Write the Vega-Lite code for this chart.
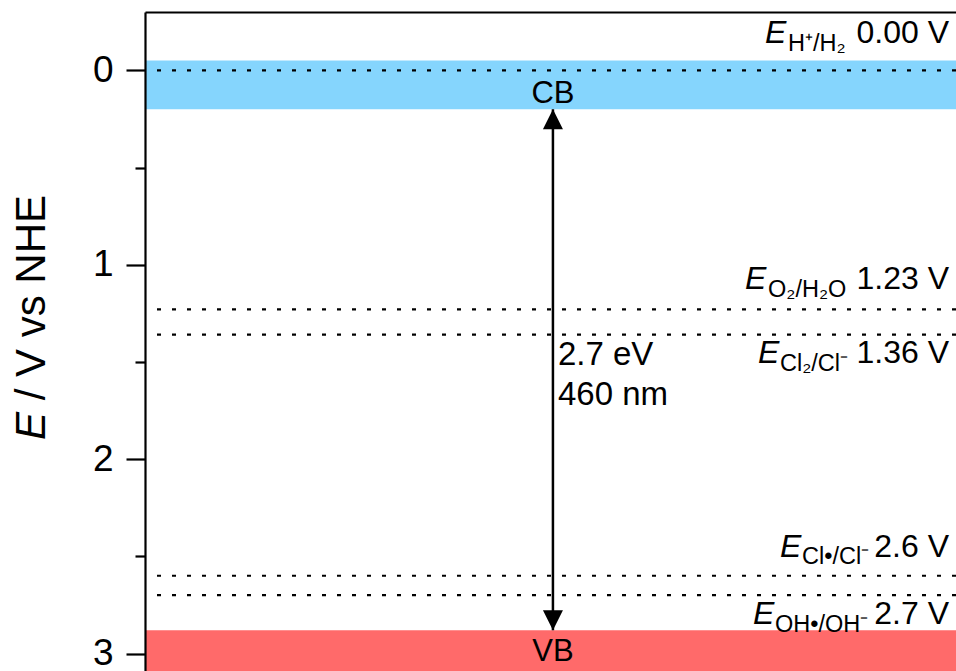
{
  "$schema": "https://vega.github.io/schema/vega-lite/v6.json",
  "width": 811,
  "height": 659,
  "autosize": "none",
  "padding": {"left": 145, "top": 12, "right": 0, "bottom": 0},
  "background": "white",
  "config": {"view": {"stroke": null}, "font": "Liberation Sans", "text": {"font": "Liberation Sans", "color": "black", "baseline": "alphabetic"}},
  "datasets": {
    "bands": [
      {"band": "CB", "top": -0.05, "bottom": 0.2},
      {"band": "VB", "top": 2.88, "bottom": 3.09}
    ],
    "levels": [
      {"id": "H", "pot": 0.0, "sub": "H⁺/H₂", "val": "0.00 V"},
      {"id": "O2", "pot": 1.23, "sub": "O₂/H₂O", "val": "1.23 V"},
      {"id": "Cl2", "pot": 1.36, "sub": "Cl₂/Cl⁻", "val": "1.36 V"},
      {"id": "Cl", "pot": 2.6, "sub": "Cl•/Cl⁻", "val": "2.6 V"},
      {"id": "OH", "pot": 2.7, "sub": "OH•/OH⁻", "val": "2.7 V"}
    ],
    "gap": [{"energy": "2.7 eV", "wavelength": "460 nm", "cb": 0.2, "vb": 2.88}],
    "title": [{"sym": "E", "rest": "/ V vs NHE"}]
  },
  "layer": [
    {
      "data": {"name": "bands"},
      "mark": {"type": "rect", "clip": true},
      "encoding": {
        "y": {
          "field": "top", "type": "quantitative",
          "scale": {"domain": [-0.3, 3.09], "reverse": true, "nice": false, "zero": false},
          "axis": {
            "title": null, "values": [0, 0.5, 1, 1.5, 2, 2.5, 3],
            "labelExpr": "datum.value % 1 === 0 ? format(datum.value, 'd') : ''",
            "grid": false, "domainColor": "black", "domainWidth": 2.2,
            "tickColor": "black", "tickWidth": 2.2,
            "tickSize": {"condition": {"test": "datum.value % 1 !== 0", "value": 10}, "value": 19},
            "labelFontSize": 37, "labelColor": "black", "labelFont": "Liberation Sans", "labelPadding": 13, "zindex": 2
          }
        },
        "y2": {"field": "bottom"},
        "color": {"field": "band", "type": "nominal", "scale": {"domain": ["CB", "VB"], "range": ["#85D5FD", "#FF6A6A"]}, "legend": null}
      }
    },
    {
      "data": {"name": "levels"},
      "mark": {"type": "rule", "strokeDash": [4, 11], "strokeWidth": 2.2, "color": "black"},
      "encoding": {"y": {"field": "pot", "type": "quantitative", "title": null}}
    },
    {
      "data": {"name": "gap"},
      "mark": {"type": "rule", "strokeWidth": 2.5, "color": "black"},
      "encoding": {
        "x": {"datum": 0.503, "type": "quantitative", "scale": {"domain": [0, 1]},
          "axis": {"orient": "top", "title": null, "ticks": false, "labels": false, "grid": false, "domain": true, "domainColor": "black", "domainWidth": 2.2, "zindex": 2}},
        "y": {"field": "cb", "type": "quantitative", "title": null},
        "y2": {"field": "vb"}
      }
    },
    {
      "data": {"name": "gap"},
      "mark": {"type": "point", "shape": "M0,0L-1,2L1,2Z", "size": 400, "filled": true, "color": "black", "opacity": 1, "strokeWidth": 0},
      "encoding": {"x": {"datum": 0.503, "type": "quantitative"}, "y": {"field": "cb", "type": "quantitative", "title": null}}
    },
    {
      "data": {"name": "gap"},
      "mark": {"type": "point", "shape": "M0,0L-1,-2L1,-2Z", "size": 400, "filled": true, "color": "black", "opacity": 1, "strokeWidth": 0},
      "encoding": {"x": {"datum": 0.503, "type": "quantitative"}, "y": {"field": "vb", "type": "quantitative", "title": null}}
    },
    {
      "data": {"name": "gap"},
      "mark": {"type": "text", "fontSize": 33, "align": "left", "baseline": "alphabetic", "dx": 5},
      "encoding": {"x": {"datum": 0.503, "type": "quantitative"}, "y": {"datum": 1.516, "type": "quantitative"}, "text": {"field": "energy"}}
    },
    {
      "data": {"name": "gap"},
      "mark": {"type": "text", "fontSize": 33, "align": "left", "baseline": "alphabetic", "dx": 5, "dy": 40},
      "encoding": {"x": {"datum": 0.503, "type": "quantitative"}, "y": {"datum": 1.516, "type": "quantitative"}, "text": {"field": "wavelength"}}
    },
    {
      "data": {"name": "bands"},
      "transform": [{"filter": "datum.band === 'CB'"}],
      "mark": {"type": "text", "fontSize": 31, "align": "center", "baseline": "alphabetic", "dy": -6.5},
      "encoding": {"x": {"datum": 0.503, "type": "quantitative"}, "y": {"field": "bottom", "type": "quantitative", "title": null}, "text": {"field": "band"}}
    },
    {
      "data": {"name": "bands"},
      "transform": [{"filter": "datum.band === 'VB'"}],
      "mark": {"type": "text", "fontSize": 31, "align": "center", "baseline": "alphabetic", "dy": 30.7},
      "encoding": {"x": {"datum": 0.503, "type": "quantitative"}, "y": {"field": "top", "type": "quantitative", "title": null}, "text": {"field": "band"}}
    },
    {
      "data": {"name": "title"},
      "mark": {"type": "text", "fontSize": 42, "fontStyle": "italic", "align": "left", "baseline": "alphabetic", "angle": 270, "dy": -100},
      "encoding": {"x": {"datum": 0, "type": "quantitative"}, "y": {"datum": 1.902, "type": "quantitative"}, "text": {"field": "sym"}}
    },
    {
      "data": {"name": "title"},
      "mark": {"type": "text", "fontSize": 42, "align": "left", "baseline": "alphabetic", "angle": 270, "dy": -100, "dx": 39.7},
      "encoding": {"x": {"datum": 0, "type": "quantitative"}, "y": {"datum": 1.902, "type": "quantitative"}, "text": {"field": "rest"}}
    },

    {"data": {"name": "levels"}, "transform": [{"filter": "datum.id === 'H'"}],
     "mark": {"type": "text", "fontSize": 32, "fontStyle": "italic", "align": "left", "baseline": "alphabetic", "dx": -191, "dy": -27},
     "encoding": {"x": {"datum": 1, "type": "quantitative"}, "y": {"field": "pot", "type": "quantitative", "title": null}, "text": {"value": "E"}}},
    {"data": {"name": "levels"}, "transform": [{"filter": "datum.id === 'H'"}],
     "mark": {"type": "text", "fontSize": 23.5, "align": "left", "baseline": "alphabetic", "dx": -168, "dy": -19.5},
     "encoding": {"x": {"datum": 1, "type": "quantitative"}, "y": {"field": "pot", "type": "quantitative", "title": null}, "text": {"field": "sub"}}},
    {"data": {"name": "levels"}, "transform": [{"filter": "datum.id === 'H'"}],
     "mark": {"type": "text", "fontSize": 32, "align": "right", "baseline": "alphabetic", "dx": -7, "dy": -27},
     "encoding": {"x": {"datum": 1, "type": "quantitative"}, "y": {"field": "pot", "type": "quantitative", "title": null}, "text": {"field": "val"}}},

    {"data": {"name": "levels"}, "transform": [{"filter": "datum.id === 'O2'"}],
     "mark": {"type": "text", "fontSize": 32, "fontStyle": "italic", "align": "left", "baseline": "alphabetic", "dx": -211, "dy": -20},
     "encoding": {"x": {"datum": 1, "type": "quantitative"}, "y": {"field": "pot", "type": "quantitative", "title": null}, "text": {"value": "E"}}},
    {"data": {"name": "levels"}, "transform": [{"filter": "datum.id === 'O2'"}],
     "mark": {"type": "text", "fontSize": 23.5, "align": "left", "baseline": "alphabetic", "dx": -188, "dy": -12.5},
     "encoding": {"x": {"datum": 1, "type": "quantitative"}, "y": {"field": "pot", "type": "quantitative", "title": null}, "text": {"field": "sub"}}},
    {"data": {"name": "levels"}, "transform": [{"filter": "datum.id === 'O2'"}],
     "mark": {"type": "text", "fontSize": 32, "align": "right", "baseline": "alphabetic", "dx": -7, "dy": -20},
     "encoding": {"x": {"datum": 1, "type": "quantitative"}, "y": {"field": "pot", "type": "quantitative", "title": null}, "text": {"field": "val"}}},

    {"data": {"name": "levels"}, "transform": [{"filter": "datum.id === 'Cl2'"}],
     "mark": {"type": "text", "fontSize": 32, "fontStyle": "italic", "align": "left", "baseline": "alphabetic", "dx": -198, "dy": 28.7},
     "encoding": {"x": {"datum": 1, "type": "quantitative"}, "y": {"field": "pot", "type": "quantitative", "title": null}, "text": {"value": "E"}}},
    {"data": {"name": "levels"}, "transform": [{"filter": "datum.id === 'Cl2'"}],
     "mark": {"type": "text", "fontSize": 23.5, "align": "left", "baseline": "alphabetic", "dx": -176, "dy": 36.2},
     "encoding": {"x": {"datum": 1, "type": "quantitative"}, "y": {"field": "pot", "type": "quantitative", "title": null}, "text": {"field": "sub"}}},
    {"data": {"name": "levels"}, "transform": [{"filter": "datum.id === 'Cl2'"}],
     "mark": {"type": "text", "fontSize": 32, "align": "right", "baseline": "alphabetic", "dx": -7, "dy": 28.7},
     "encoding": {"x": {"datum": 1, "type": "quantitative"}, "y": {"field": "pot", "type": "quantitative", "title": null}, "text": {"field": "val"}}},

    {"data": {"name": "levels"}, "transform": [{"filter": "datum.id === 'Cl'"}],
     "mark": {"type": "text", "fontSize": 32, "fontStyle": "italic", "align": "left", "baseline": "alphabetic", "dx": -176, "dy": -19},
     "encoding": {"x": {"datum": 1, "type": "quantitative"}, "y": {"field": "pot", "type": "quantitative", "title": null}, "text": {"value": "E"}}},
    {"data": {"name": "levels"}, "transform": [{"filter": "datum.id === 'Cl'"}],
     "mark": {"type": "text", "fontSize": 23.5, "align": "left", "baseline": "alphabetic", "dx": -154, "dy": -11.5},
     "encoding": {"x": {"datum": 1, "type": "quantitative"}, "y": {"field": "pot", "type": "quantitative", "title": null}, "text": {"field": "sub"}}},
    {"data": {"name": "levels"}, "transform": [{"filter": "datum.id === 'Cl'"}],
     "mark": {"type": "text", "fontSize": 32, "align": "right", "baseline": "alphabetic", "dx": -7, "dy": -19},
     "encoding": {"x": {"datum": 1, "type": "quantitative"}, "y": {"field": "pot", "type": "quantitative", "title": null}, "text": {"field": "val"}}},

    {"data": {"name": "levels"}, "transform": [{"filter": "datum.id === 'OH'"}],
     "mark": {"type": "text", "fontSize": 32, "fontStyle": "italic", "align": "left", "baseline": "alphabetic", "dx": -203, "dy": 29},
     "encoding": {"x": {"datum": 1, "type": "quantitative"}, "y": {"field": "pot", "type": "quantitative", "title": null}, "text": {"value": "E"}}},
    {"data": {"name": "levels"}, "transform": [{"filter": "datum.id === 'OH'"}],
     "mark": {"type": "text", "fontSize": 23.5, "align": "left", "baseline": "alphabetic", "dx": -181, "dy": 36.5},
     "encoding": {"x": {"datum": 1, "type": "quantitative"}, "y": {"field": "pot", "type": "quantitative", "title": null}, "text": {"field": "sub"}}},
    {"data": {"name": "levels"}, "transform": [{"filter": "datum.id === 'OH'"}],
     "mark": {"type": "text", "fontSize": 32, "align": "right", "baseline": "alphabetic", "dx": -7, "dy": 29},
     "encoding": {"x": {"datum": 1, "type": "quantitative"}, "y": {"field": "pot", "type": "quantitative", "title": null}, "text": {"field": "val"}}}
  ]
}
